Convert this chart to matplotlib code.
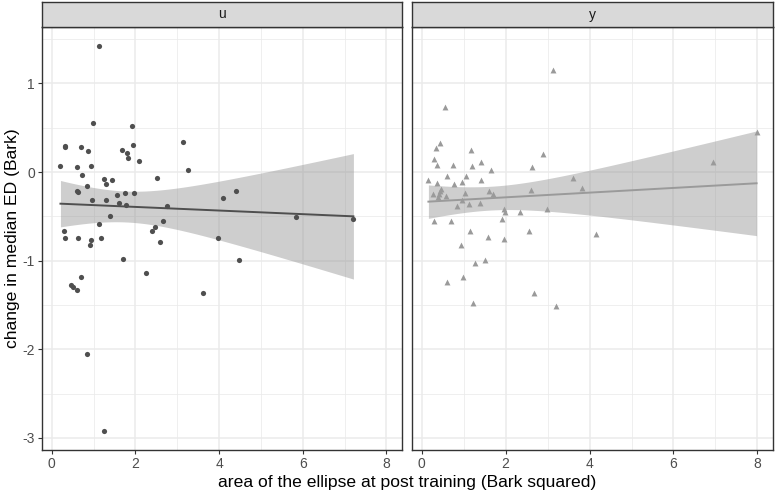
import math
import numpy as np
import matplotlib
matplotlib.use("Agg")
import matplotlib.pyplot as plt
from matplotlib.ticker import MultipleLocator

plt.rcParams['font.family'] = ['Liberation Sans', 'DejaVu Sans']
plt.rcParams['axes.unicode_minus'] = False

# ---- data ----
panels = ["u", "y"]
u_area = [1.12, 0.99, 1.93, 0.33, 0.32, 0.69, 0.87, 1.94, 1.67, 1.81, 1.82, 2.08, 3.13, 3.25,
          0.21, 0.61, 0.93, 0.72, 1.25, 1.30, 1.44, 2.52, 0.85, 0.60, 0.63, 1.55, 1.75, 1.97,
          4.10, 4.41, 0.96, 1.29, 1.62, 1.78, 2.75, 1.40, 1.14, 2.67, 2.48, 2.40, 0.29, 0.31,
          0.64, 0.95, 1.19, 0.92, 2.59, 3.97, 1.71, 4.48, 2.25, 0.70, 0.47, 0.51, 0.60, 3.61,
          0.84, 1.24, 5.84, 7.21]
u_change = [1.42, 0.55, 0.52, 0.29, 0.28, 0.28, 0.24, 0.31, 0.25, 0.22, 0.16, 0.13, 0.34, 0.02,
            0.07, 0.06, 0.07, -0.03, -0.08, -0.13, -0.09, -0.07, -0.16, -0.21, -0.23, -0.26, -0.24, -0.24,
            -0.29, -0.21, -0.31, -0.32, -0.35, -0.37, -0.38, -0.50, -0.59, -0.55, -0.62, -0.67, -0.67, -0.75,
            -0.75, -0.77, -0.75, -0.82, -0.79, -0.75, -0.98, -0.99, -1.14, -1.18, -1.28, -1.30, -1.33, -1.37,
            -2.05, -2.92, -0.51, -0.53]
y_area = [3.13, 0.56, 0.44, 0.33, 0.29, 0.37, 0.75, 1.17, 1.19, 1.41, 1.66, 2.64, 2.90, 0.16,
          0.37, 0.60, 0.78, 0.96, 1.06, 1.41, 3.61, 3.81, 2.61, 0.45, 0.43, 0.41, 0.28, 0.58,
          0.39, 1.04, 1.60, 1.71, 0.97, 0.83, 1.13, 1.39, 1.96, 1.98, 2.35, 2.98, 1.91, 0.30,
          0.71, 1.16, 2.56, 1.57, 1.97, 4.15, 0.93, 1.52, 1.26, 0.98, 0.60, 2.67, 1.22, 3.21,
          6.93, 7.98]
y_change = [1.15, 0.73, 0.33, 0.27, 0.15, 0.08, 0.08, 0.25, 0.07, 0.11, 0.02, 0.06, 0.20, -0.09,
            -0.12, -0.05, -0.14, -0.11, -0.05, -0.09, -0.07, -0.18, -0.20, -0.19, -0.21, -0.25, -0.25, -0.27,
            -0.28, -0.24, -0.21, -0.25, -0.32, -0.38, -0.36, -0.35, -0.42, -0.45, -0.45, -0.42, -0.53, -0.55,
            -0.55, -0.66, -0.67, -0.73, -0.76, -0.70, -0.82, -0.99, -1.03, -1.19, -1.24, -1.37, -1.48, -1.51,
            0.11, 0.45]
x_ticks = [0, 2, 4, 6, 8]
y_ticks = [-3, -2, -1, 0, 1]
x_title = "area of the ellipse at post training (Bark squared)"
y_title = "change in median ED (Bark)"


# ---- stats helpers (lm fit with 95% CI, like geom_smooth(method='lm')) ----
def t_pdf(t, df):
    c = math.exp(math.lgamma((df + 1) / 2) - math.lgamma(df / 2)) / math.sqrt(df * math.pi)
    return c * (1 + t * t / df) ** (-(df + 1) / 2)


def t_ppf(p, df):
    def cdf(x):
        xs = np.linspace(0, x, 2001)
        ys = np.array([t_pdf(v, df) for v in xs])
        return 0.5 + np.trapezoid(ys, xs)
    lo, hi = 0.0, 10.0
    for _ in range(60):
        mid = (lo + hi) / 2
        if cdf(mid) < p:
            lo = mid
        else:
            hi = mid
    return (lo + hi) / 2


def lm_band(x, y, n_grid=80):
    x = np.asarray(x); y = np.asarray(y)
    n = len(x)
    b, a = np.polyfit(x, y, 1)
    resid = y - (a + b * x)
    s = math.sqrt(np.sum(resid ** 2) / (n - 2))
    xm = x.mean(); sxx = np.sum((x - xm) ** 2)
    xg = np.linspace(x.min(), x.max(), n_grid)
    yg = a + b * xg
    se = s * np.sqrt(1 / n + (xg - xm) ** 2 / sxx)
    t = t_ppf(0.975, n - 2)
    return xg, yg, yg - t * se, yg + t * se


W, H = 775, 494
fig = plt.figure(figsize=(W / 100, H / 100), dpi=100)

all_x = np.array(u_area + y_area)
all_y = np.array(u_change + y_change)
xr = all_x.max() - all_x.min(); yr = all_y.max() - all_y.min()
xlim = (all_x.min() - 0.05 * xr, all_x.max() + 0.05 * xr)
ylim = (all_y.min() - 0.05 * yr, all_y.max() + 0.05 * yr)

panel_top, panel_bot = 27, 450
strip_top = 2
lefts = [42, 412]
rights = [402, 773]
data = [(u_area, u_change), (y_area, y_change)]
colors = ["#4f4f4f", "#9a9a9a"]
markers = ["o", "^"]
sizes = [14, 18]

border = "#333333"
for i, name in enumerate(panels):
    l, r = lefts[i], rights[i]
    ax = fig.add_axes([l / W, (H - panel_bot) / H, (r - l) / W, (panel_bot - panel_top) / H])
    ax.set_xlim(*xlim); ax.set_ylim(*ylim)
    ax.xaxis.set_major_locator(MultipleLocator(2))
    ax.xaxis.set_minor_locator(MultipleLocator(1))
    ax.yaxis.set_major_locator(MultipleLocator(1))
    ax.yaxis.set_minor_locator(MultipleLocator(0.5))
    ax.set_xticks(x_ticks)
    ax.set_yticks(y_ticks)
    ax.grid(True, which="major", color="#ebebeb", linewidth=1.1, zorder=0)
    ax.grid(True, which="minor", color="#ebebeb", linewidth=0.55, zorder=0)
    ax.set_axisbelow(True)
    for sp in ax.spines.values():
        sp.set_color(border); sp.set_linewidth(1.0)
    ax.tick_params(which="minor", length=0)
    ax.tick_params(which="major", length=3, width=0.8, color=border,
                   labelsize=10, labelcolor="#4d4d4d", pad=2)
    if i > 0:
        ax.tick_params(axis="y", length=0, labelleft=False)

    xs, ys = data[i]
    xg, yg, lo, hi = lm_band(xs, ys)
    ax.fill_between(xg, lo, hi, color="#999999", alpha=0.48, linewidth=0, zorder=2)
    ax.plot(xg, yg, color=colors[i], linewidth=1.4, zorder=3)
    ax.scatter(xs, ys, s=sizes[i], marker=markers[i], color=colors[i], linewidths=0, zorder=4)

    sax = fig.add_axes([l / W, (H - panel_top) / H, (r - l) / W, (panel_top - strip_top) / H])
    sax.set_facecolor("#d9d9d9")
    sax.set_xticks([]); sax.set_yticks([])
    for sp in sax.spines.values():
        sp.set_color(border); sp.set_linewidth(1.0)
    sax.text(0.5, 0.5, name, ha="center", va="center", fontsize=10, color="#1a1a1a",
             transform=sax.transAxes)

fig.text((lefts[0] + rights[1]) / 2 / W, 1 - 482 / H, x_title, ha="center", va="center",
         fontsize=12.6, color="black")
fig.text(13 / W, 1 - ((panel_top + panel_bot) / 2) / H, y_title, ha="center", va="center",
         rotation=90, fontsize=12.6, color="black")

fig.savefig("out.png", dpi=100)
